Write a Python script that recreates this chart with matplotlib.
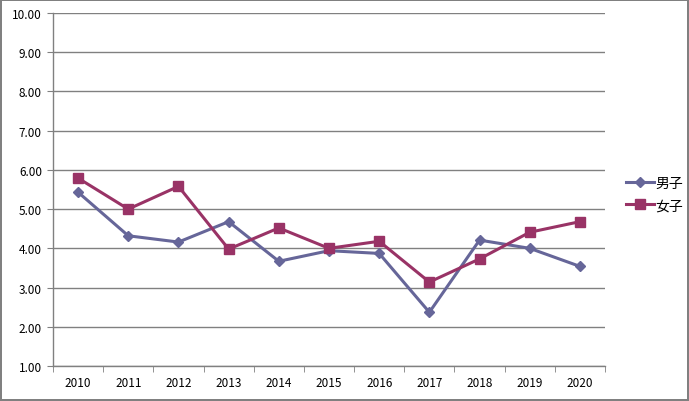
import matplotlib.pyplot as plt
import numpy as np

plt.rcParams['font.family'] = ['Noto Sans CJK JP', 'DejaVu Sans']

years = ['2010', '2011', '2012', '2013', '2014', '2015', '2016', '2017', '2018', '2019', '2020']
boys = [5.43, 4.32, 4.16, 4.68, 3.67, 3.94, 3.87, 2.37, 4.21, 4.00, 3.54]
girls = [5.79, 5.00, 5.58, 3.98, 4.52, 4.00, 4.18, 3.14, 3.73, 4.41, 4.68]
series_names = ['男子', '女子']

fig = plt.figure(figsize=(6.89, 4.02), dpi=100)
fig.patch.set_edgecolor('#808080')
fig.patch.set_linewidth(1.5)
ax = fig.add_axes([53 / 689, 1 - 367 / 402, (605 - 53) / 689, (367 - 14) / 402])

x = np.arange(len(years))
ax.plot(x, boys, color='#666699', lw=2.2, marker='D', ms=5.5, label=series_names[0], zorder=3)
ax.plot(x, girls, color='#993366', lw=2.2, marker='s', ms=6.5, label=series_names[1], zorder=3)

ax.set_xlim(-0.5, len(years) - 0.5)
ax.set_ylim(1, 10)
ax.set_yticks(np.arange(1, 11))
ax.set_yticklabels([f'{v:.2f}' for v in np.arange(1, 11)], fontsize=8.5)
ax.set_xticks(x)
ax.set_xticklabels(years, fontsize=8.5)
ax.set_xticks(np.arange(-0.5, len(years)), minor=True)
ax.tick_params(axis='x', which='major', length=0, pad=7)
ax.tick_params(axis='x', which='minor', length=4, color='#808080', direction='out')
ax.tick_params(axis='y', length=4, color='#808080', direction='out', pad=4)
ax.grid(axis='y', color='#808080', lw=1)
ax.set_axisbelow(True)
for s in ['top', 'right']:
    ax.spines[s].set_visible(False)
for s in ['left', 'bottom']:
    ax.spines[s].set_color('#808080')
    ax.spines[s].set_linewidth(1)

ax.legend(loc='center left', bbox_to_anchor=(1.015, 0.487), frameon=False, fontsize=10,
          handlelength=2.0, handletextpad=0.1, labelspacing=0.6)

fig.savefig('out.png', dpi=100)
